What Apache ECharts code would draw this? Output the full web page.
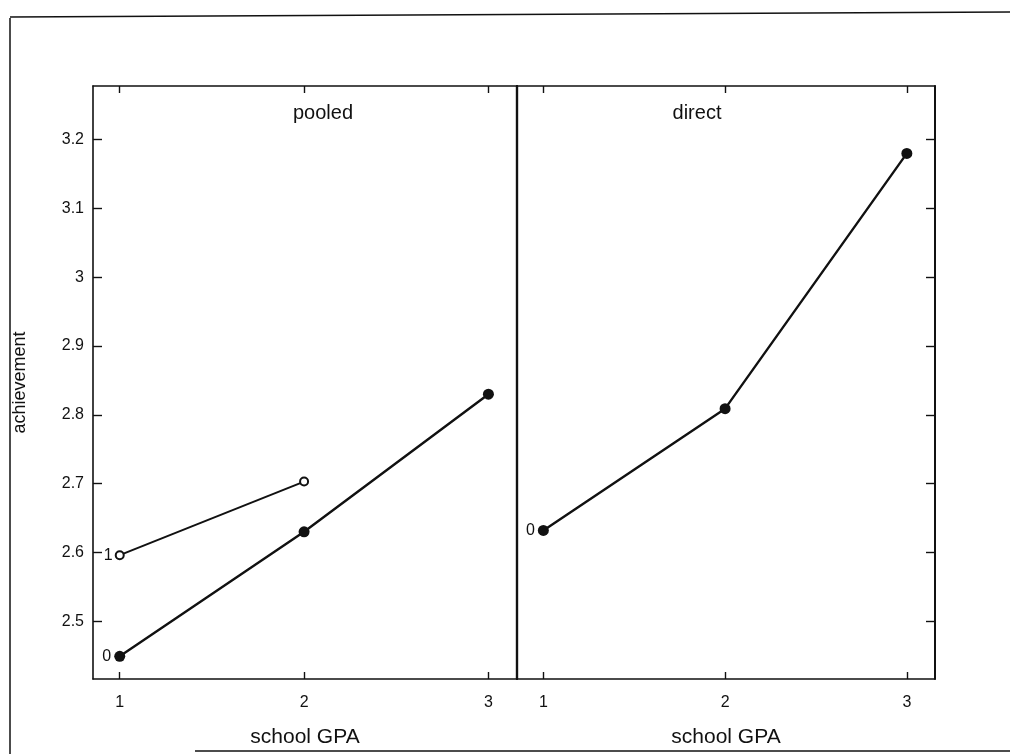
<!DOCTYPE html>
<html>
<head>
<meta charset="utf-8">
<script src="https://cdn.jsdelivr.net/npm/echarts@6/dist/echarts.min.js"></script>
<style>
html,body{margin:0;padding:0;background:#fff;}
#c{width:1010px;height:754px;}
</style>
</head>
<body>
<div id="c"></div>
<script>
// ---- data ----
const panels = ['pooled', 'direct'];
const gpaLevels = [1, 2, 3];
const pooledGroup0 = [2.449, 2.630, 2.830];
const pooledGroup1Gpa = [1, 2];
const pooledGroup1 = [2.596, 2.703];
const directGroup0 = [2.632, 2.809, 3.180];
const yTickValues = [2.5, 2.6, 2.7, 2.8, 2.9, 3.0, 3.1, 3.2];
const xTickValues = [1, 2, 3];
const groupLabels = ['0', '1', '0'];
const yName = 'achievement';
const xName = 'school GPA';

const FONT = '"Liberation Sans", Arial, sans-serif';
const INK = '#111';
const TXT = '#111';

const pairs = (xs, ys) => xs.map((x, i) => [x, ys[i]]);

const yMin = 2.416, yMax = 3.278;
const xMin = 0.855, xMax = 3.155;

function xAx(grid, pos, withLabels) {
  return {
    type: 'value', gridIndex: grid, position: pos, min: xMin, max: xMax,
    axisLine: {show: true, onZero: false, lineStyle: {color: INK, width: 1.6}},
    axisTick: {show: true, inside: true, length: 7, lineStyle: {color: INK, width: 1.4}, customValues: xTickValues},
    axisLabel: {show: withLabels, margin: 16, fontFamily: FONT, fontSize: 16, color: TXT, customValues: xTickValues},
    splitLine: {show: false},
    name: withLabels ? xName : '', nameLocation: 'middle', nameGap: 48,
    nameTextStyle: {fontFamily: FONT, fontSize: 21, color: TXT}
  };
}
function yAx(grid, pos, labels, ticks, lw) {
  return {
    type: 'value', gridIndex: grid, position: pos, min: yMin, max: yMax,
    axisLine: {show: true, onZero: false, lineStyle: {color: INK, width: lw}},
    axisTick: {show: ticks, inside: true, length: 9, lineStyle: {color: INK, width: 1.4}, customValues: yTickValues},
    axisLabel: {show: labels, margin: 9, fontFamily: FONT, fontSize: 16, color: TXT, customValues: yTickValues},
    splitLine: {show: false},
    name: labels ? yName : '', nameLocation: 'middle', nameGap: 64, nameRotate: 90,
    nameTextStyle: {fontFamily: FONT, fontSize: 18, color: TXT}
  };
}

const option = {
  backgroundColor: '#fff',
  animation: false,
  title: [
    {text: panels[0], left: 318, top: 98, textAlign: 'center',
     textStyle: {fontFamily: FONT, fontSize: 20, fontWeight: 'normal', color: TXT}},
    {text: panels[1], left: 692, top: 98, textAlign: 'center',
     textStyle: {fontFamily: FONT, fontSize: 20, fontWeight: 'normal', color: TXT}}
  ],
  grid: [
    {left: 93, right: 1010 - 517, top: 86, bottom: 754 - 679},
    {left: 517, right: 1010 - 935, top: 86, bottom: 754 - 679}
  ],
  xAxis: [
    xAx(0, 'bottom', true), xAx(0, 'top', false),
    xAx(1, 'bottom', true), xAx(1, 'top', false)
  ],
  yAxis: [
    yAx(0, 'left', true, true, 1.6), yAx(0, 'right', false, false, 2.2),
    yAx(1, 'left', false, false, 2.2), yAx(1, 'right', false, true, 2)
  ],
  series: [
    {
      name: 'pooled-0', type: 'line', xAxisIndex: 0, yAxisIndex: 0,
      data: pairs(gpaLevels, pooledGroup0),
      symbol: 'circle', symbolSize: 11, showAllSymbol: true,
      itemStyle: {color: INK}, lineStyle: {color: INK, width: 2.4},
      label: {show: true, position: 'left', distance: 3, fontFamily: FONT, fontSize: 16, color: TXT,
        formatter: p => p.dataIndex === 0 ? groupLabels[0] : ''}
    },
    {
      name: 'pooled-1', type: 'line', xAxisIndex: 0, yAxisIndex: 0,
      data: pairs(pooledGroup1Gpa, pooledGroup1),
      symbol: 'emptyCircle', symbolSize: 8, showAllSymbol: true,
      itemStyle: {color: INK, borderWidth: 1.6}, lineStyle: {color: INK, width: 2},
      label: {show: true, position: 'left', distance: 2, fontFamily: FONT, fontSize: 16, color: TXT,
        formatter: p => p.dataIndex === 0 ? groupLabels[1] : ''}
    },
    {
      name: 'direct-0', type: 'line', xAxisIndex: 2, yAxisIndex: 2,
      data: pairs(gpaLevels, directGroup0),
      symbol: 'circle', symbolSize: 11, showAllSymbol: true,
      itemStyle: {color: INK}, lineStyle: {color: INK, width: 2.4},
      label: {show: true, position: 'left', distance: 3, fontFamily: FONT, fontSize: 16, color: TXT,
        formatter: p => p.dataIndex === 0 ? groupLabels[2] : ''}
    }
  ],
  graphic: [
    {type: 'line', shape: {x1: 10, y1: 18, x2: 10, y2: 754}, style: {stroke: INK, lineWidth: 1.5}},
    {type: 'line', shape: {x1: 10, y1: 17, x2: 1010, y2: 12}, style: {stroke: INK, lineWidth: 1.5}},
    {type: 'line', shape: {x1: 195, y1: 751, x2: 1010, y2: 751}, style: {stroke: INK, lineWidth: 1.5}}
  ]
};

const chart = echarts.init(document.getElementById('c'), null, {renderer: 'canvas'});
chart.setOption(option);
</script>
</body>
</html>
